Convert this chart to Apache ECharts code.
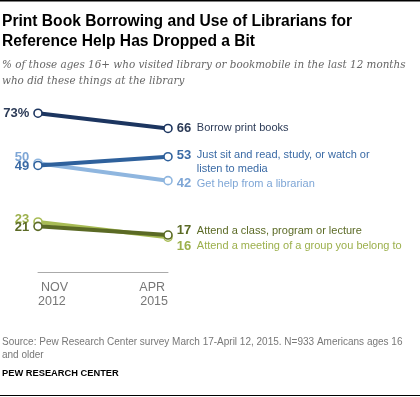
<!DOCTYPE html>
<html>
<head>
<meta charset="utf-8">
<script src="https://cdn.jsdelivr.net/npm/echarts@6/dist/echarts.min.js"></script>
<style>
  html, body { margin: 0; padding: 0; background: #fff; }
  #chart { width: 420px; height: 397px; }
</style>
</head>
<body>
<div id="chart"></div>
<script>
// Survey waves on the x axis
const periods = ['NOV\n2012', 'APR\n2015'];

// Activities, drawn light-first so the dark lines sit on top
const activities = [
  'Borrow print books',
  'Get help from a librarian',
  'Just sit and read, study, or watch or\nlisten to media',
  'Attend a meeting of a group you belong to',
  'Attend a class, program or lecture'
];
const nov2012 = [73, 50, 49, 23, 21];
const apr2015 = [66, 42, 53, 16, 17];
const leftLabels = ['73%', '50', '49', '23', '21'];

const lineColors = ['#1c3560', '#8fb6df', '#2f619c', '#a8bc55', '#5b6a25'];
const textColors = ['#2c3b57', '#7ea6d6', '#3a6aa5', '#9cb04c', '#5b6a25'];
// small vertical nudges so labels don't collide (px)
const leftNudge = [0, -6, 0.5, -2.5, 1];
const rightNudge = [0, 3, 5.5, 9, -4.5];

const FONT = '"Liberation Sans", Arial, sans-serif';

const chart = echarts.init(document.getElementById('chart'), null, { renderer: 'canvas' });

const series = activities.map((name, i) => {
  const parts = name.split('\n');
  let fmt = `{v|${apr2015[i]}}{t|${parts[0]}}`;
  if (parts[1]) fmt += `\n{s|${parts[1]}}`;
  return {
    name,
    type: 'line',
    data: [
      {
        value: nov2012[i],
        label: {
          show: true,
          position: 'left',
          distance: 4,
          offset: [0, leftNudge[i]],
          formatter: leftLabels[i],
          color: textColors[i],
          fontFamily: FONT,
          fontWeight: 'bold',
          fontSize: 13
        }
      },
      {
        value: apr2015[i],
        label: {
          show: true,
          position: 'right',
          distance: 4,
          offset: [0, rightNudge[i]],
          formatter: fmt,
          lineHeight: 14,
          rich: {
            v: { fontFamily: FONT, fontWeight: 'bold', fontSize: 13, color: textColors[i], width: 20 },
            t: { fontFamily: FONT, fontSize: 11, color: textColors[i] },
            s: { fontFamily: FONT, fontSize: 11, color: textColors[i], padding: [0, 0, 0, 20] }
          }
        }
      }
    ],
    symbol: 'circle',
    symbolSize: 8,
    itemStyle: { color: '#fff', borderColor: lineColors[i], borderWidth: 1.6 },
    lineStyle: { color: lineColors[i], width: 4 },
    emphasis: { disabled: true },
    silent: true,
    z: 2 + i
  };
});

chart.setOption({
  animation: false,
  backgroundColor: '#fff',
  title: [
    {
      text: 'Print Book Borrowing and Use of Librarians for\nReference Help Has Dropped a Bit',
      left: 2,
      top: 12,
      padding: 0,
      textStyle: { fontFamily: FONT, fontWeight: 'bold', fontSize: 15.6, color: '#000', lineHeight: 20 }
    },
    {
      text: '% of those ages 16+ who visited library or bookmobile in the last 12 months\nwho did these things at the library',
      left: 2,
      top: 57,
      padding: 0,
      textStyle: { fontFamily: '"DejaVu Serif", Georgia, serif', fontStyle: 'italic', fontWeight: 'normal', fontSize: 10.4, color: '#666', lineHeight: 16 }
    },
    {
      text: 'Source: Pew Research Center survey March 17-April 12, 2015. N=933 Americans ages 16\nand older',
      left: 2,
      top: 336,
      padding: 0,
      textStyle: { fontFamily: FONT, fontWeight: 'normal', fontSize: 10, color: '#777', lineHeight: 13 }
    },
    {
      text: 'PEW RESEARCH CENTER',
      left: 2,
      top: 369,
      padding: 0,
      textStyle: { fontFamily: FONT, fontWeight: 'bold', fontSize: 9.3, color: '#000' }
    }
  ],
  graphic: [
    { type: 'rect', left: 0, top: 0, shape: { width: 420, height: 1.5 }, style: { fill: '#000' } },
    { type: 'rect', left: 0, top: 395, shape: { width: 420, height: 1 }, style: { fill: '#000' } }
  ],
  grid: { left: 38, top: 98, width: 130, height: 174 },
  xAxis: {
    type: 'category',
    data: periods,
    boundaryGap: false,
    axisLine: { lineStyle: { color: '#aaa', width: 1 } },
    axisTick: { show: false },
    axisLabel: {
      margin: 9,
      interval: 0,
      alignMinLabel: 'left',
      alignMaxLabel: 'right',
      formatter: (val, idx) => {
        const [m, y] = val.split('\n');
        return idx === 0 ? `{l|${m}}\n{n|${y}}` : `{r|${m}}\n{n|${y}}`;
      },
      rich: {
        l: { fontFamily: FONT, fontSize: 12.5, color: '#777', lineHeight: 14, padding: [0, 0, 0, 3] },
        r: { fontFamily: FONT, fontSize: 12.5, color: '#777', lineHeight: 14, padding: [0, 3, 0, 0] },
        n: { fontFamily: FONT, fontSize: 12.5, color: '#777', lineHeight: 14 }
      }
    }
  },
  yAxis: {
    type: 'value',
    min: 0,
    max: 80,
    show: false
  },
  series
});
</script>
</body>
</html>
